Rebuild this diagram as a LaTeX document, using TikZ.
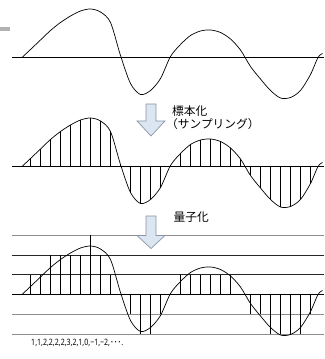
\documentclass[tikz,border=0pt]{standalone}
\usepackage{fontspec}
\newfontfamily\jpfont{Noto Sans CJK JP}
\newfontfamily\jpnarrow{Noto Sans CJK JP}[FakeStretch=0.85]
\newfontfamily\codefont{Noto Sans}[FakeStretch=0.8]
\usetikzlibrary{positioning}
\definecolor{arrowfill}{HTML}{DCE6F2}
\definecolor{arrowline}{HTML}{8A96A3}
\definecolor{levelgray}{HTML}{8C8C8C}

\begin{document}
\begin{tikzpicture}[
  x=0.3mm, y=0.3mm,
  wave/.style={line width=0.6pt},
  axisline/.style={line width=0.9pt},
  sample/.style={line width=0.45pt},
  level/.style={line width=0.6pt, levelgray},
  darklevel/.style={line width=0.5pt, black!85},
  bigarrow/.style={draw=arrowline, fill=arrowfill, line width=0.6pt},
  jplabel/.style={font=\jpfont\fontsize{10}{12}\selectfont, inner sep=0pt, anchor=west},
  codes/.style={font=\codefont\fontsize{7.5}{9}\selectfont, inner sep=0pt, anchor=west}
]
\useasboundingbox (0,0) rectangle (324,359);
\draw[line width=1.2mm, gray!60] (0,330) -- (10,330);

% quantization levels
\foreach \lv/\sty in {3/level, 2/darklevel, 1/darklevel, -1/level, -2/level}
  \draw[\sty] (12,{64.5+19.8*\lv}) -- (324,{64.5+19.8*\lv});

% samples
\foreach \k/\h/\q in {0/8/1, 1/17.5/1, 2/27/2, 3/35/2, 4/41.5/2, 5/46.5/2, 6/48.5/3,
    7/45.5/2, 8/35/1, 9/2/0, 10/-26/-1, 11/-37/-2, 12/-33/-2, 13/-21/-1, 14/1/0,
    15/13/1, 16/22/1, 17/26.5/1, 18/27.5/1, 19/25/1, 20/18.5/1, 21/7.5/0,
    22/-9/-1, 23/-21.5/-1, 24/-33/-2, 25/-40.5/-2, 26/-40/-2, 27/-33/-2, 28/-17/-1} {
  \draw[sample] ({30.5+10*\k},192.5) -- ++(0,\h);
  \draw[sample] ({30.5+10*\k},64.5) -- ++(0,{19.8*\q});
}

% signal
\foreach \ax in {301.5, 192.5, 64.5} {
  \draw[axisline] (12,\ax) -- (324,\ax);
  \draw[wave, shift={(0,\ax)}] plot[smooth] coordinates {(22,0) (30.5,8) (40.5,17.5)
    (50.5,27) (60.5,35) (70.5,41.5) (80.5,46.5) (90.5,48.5) (100.5,45.5) (110.5,35)
    (120.5,2) (130.5,-26) (140.5,-37) (150.5,-33) (160.5,-21) (170.5,1) (180.5,13)
    (190.5,22) (200.5,26.5) (210.5,27.5) (220.5,25) (230.5,18.5) (240.5,7.5)
    (250.5,-9) (260.5,-21.5) (270.5,-33) (280.5,-40.5) (290.5,-40) (300.5,-33)
    (310.5,-17) (318,0) (322.5,4)};
}

\draw[bigarrow] (146,255) -- (156,255) -- (156,238) -- (165,238) -- (151,223)
  -- (137,238) -- (146,238) -- cycle;
\draw[bigarrow] (146,143) -- (156,143) -- (156,123.5) -- (165,123.5) -- (151,110.5)
  -- (137,123.5) -- (146,123.5) -- cycle;

\node[jplabel] (sampling) at (172,248) {標本化};
\node[jplabel] (samplingnote) at (166,234.5) {（サンプリング）};
\node[jplabel] (quantize) at (173.5,142.3) {量子化};
\node[codes] (codelist) at (31,16) {1,1,2,2,2,2,3,2,1,0,−1,−2,{\jpnarrow ･･･}.};
\end{tikzpicture}
\end{document}
